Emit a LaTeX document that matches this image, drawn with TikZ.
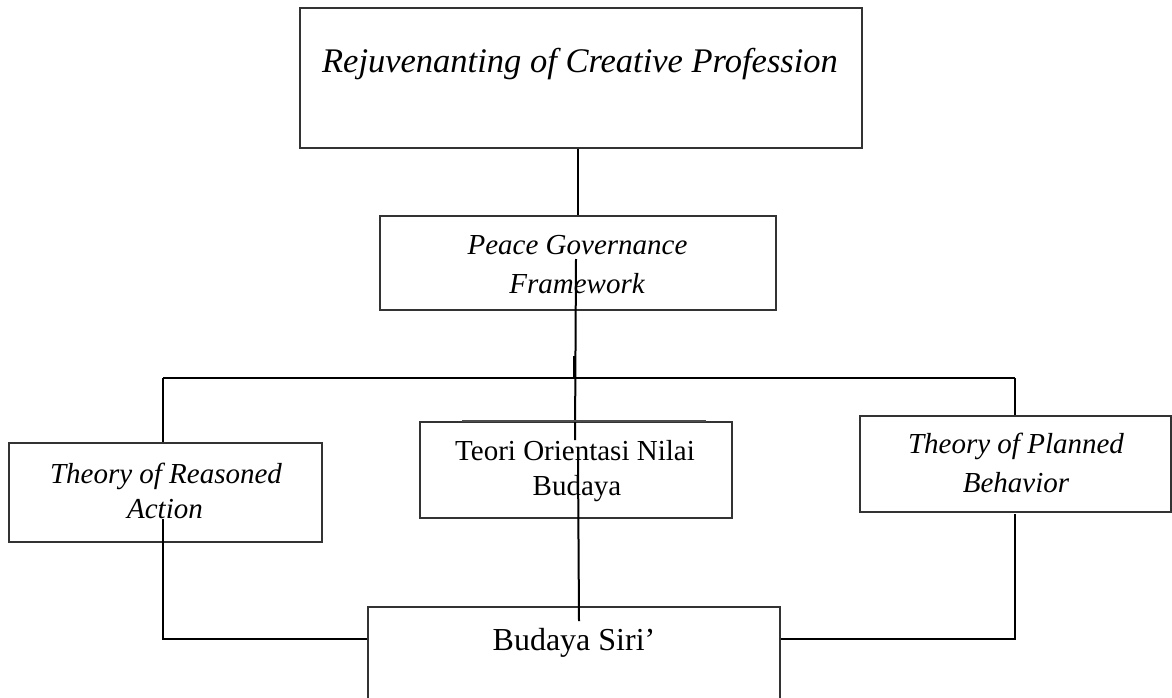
\documentclass[tikz,border=0pt]{standalone}
\usepackage{fontspec}
\setmainfont{Liberation Serif}
\begin{document}
\begin{tikzpicture}[x=1pt,y=-1pt,
  box/.style={draw=black!80, line width=1.3pt, inner sep=0pt},
  conn/.style={draw=black, line width=2pt},
  itl/.style={font=\fontsize{29}{35}\selectfont\itshape, anchor=base, inner sep=0pt},
  rml/.style={font=\fontsize{29}{35}\selectfont, anchor=base, inner sep=0pt}]
\useasboundingbox (0,0) rectangle (1172,698);

% boxes
\node[box, minimum width=562pt, minimum height=140pt] (top) at (581,78) {};
\node[box, minimum width=396pt, minimum height=94pt] (peace) at (578,263) {};
\node[box, minimum width=313pt, minimum height=99pt] (tra) at (165.5,492.5) {};
\node[box, minimum width=312pt, minimum height=96pt] (teori) at (576,470) {};
\node[box, minimum width=311pt, minimum height=96pt] (tpb) at (1015.5,464) {};
\node[box, minimum width=412pt, minimum height=113pt] (budaya) at (574,663.5) {};

% texts
\node[itl, font=\fontsize{34.5}{40}\selectfont\itshape] (ttitle) at (580,73) {Rejuvenanting of Creative Profession};
\node[itl] (tpeace1) at (577.5,254) {Peace Governance};
\node[itl] (tpeace2) at (577,293) {Framework};
\node[itl] (ttra1) at (166,483) {Theory of Reasoned};
\node[itl] (ttra2) at (165,518) {Action};
\node[rml] (tteori1) at (575,460) {Teori Orientasi Nilai};
\node[rml] (tteori2) at (577,495) {Budaya};
\node[itl] (ttpb1) at (1016,453) {Theory of Planned};
\node[itl] (ttpb2) at (1016,492) {Behavior};
\node[rml, font=\fontsize{32}{38}\selectfont] (tbud) at (574,650) {Budaya Siri’};

% helper coordinates
\coordinate (pin) at (576,259);
\coordinate (pout) at (575,440);
\coordinate (thk1) at (574,356);
\coordinate (thk2) at (574,378);
\coordinate (hl) at (163,378);
\coordinate (hr) at (1015,378);
\coordinate (tin) at (578,460);
\coordinate (bin) at (579,621);
\coordinate (lin) at (163,519);
\coordinate (lcorner) at (163,639);
\coordinate (rin) at (1015,514);
\coordinate (rcorner) at (1015,639);
\coordinate (gl) at (462,421);
\coordinate (gr) at (706,421);

% connectors
\draw[conn] ([xshift=-3pt]top.south) -- ([xshift=-3pt]top.south |- peace.north);
\draw[conn] (pin) -- (pout);
\draw[black, line width=3pt] (thk1) -- (thk2);
\draw[conn] (hl) -- (hr);
\draw[conn] (hl) -- (hl |- tra.north);
\draw[conn] (hr) -- (hr |- tpb.north);
\draw[draw=black!70, line width=1.5pt] (gl) -- (gr);
\draw[conn] (tin) -- (bin);
\draw[conn] (lin) -- (lcorner) -- (lcorner -| budaya.west);
\draw[conn] (rin) -- (rcorner) -- (rcorner -| budaya.east);
\end{tikzpicture}
\end{document}
